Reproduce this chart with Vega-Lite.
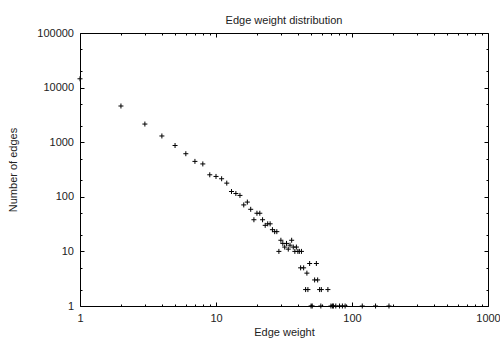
{
  "$schema": "https://vega.github.io/schema/vega-lite/v6.json",
  "width": 408,
  "height": 273,
  "autosize": {"type": "none"},
  "padding": {"left": 80, "top": 33, "right": 12, "bottom": 33},
  "background": "white",
  "title": {"text": "Edge weight distribution", "font": "Liberation Sans", "fontSize": 11, "fontWeight": "normal", "color": "#222", "baseline": "alphabetic", "offset": 12, "dy": 20, "anchor": "middle"},
  "config": {
    "view": {"stroke": null},
    "axis": {"grid": false, "minExtent": 0, "domainColor": "#000", "tickColor": "#000", "domainWidth": 1, "tickWidth": 1, "labelFont": "Liberation Sans", "labelFontSize": 11, "labelColor": "#222", "titleFont": "Liberation Sans", "titleFontSize": 11, "titleFontWeight": "normal", "titleColor": "#222", "labelFlush": false, "labelOverlap": false}
  },
  "data": {"values": [
    {"w": 1, "n": 14500}, {"w": 2, "n": 4600}, {"w": 3, "n": 2150}, {"w": 4, "n": 1300}, {"w": 5, "n": 870},
    {"w": 6, "n": 615}, {"w": 7, "n": 445}, {"w": 8, "n": 400}, {"w": 9, "n": 253}, {"w": 10, "n": 236},
    {"w": 11, "n": 214}, {"w": 12, "n": 178}, {"w": 13, "n": 125}, {"w": 14, "n": 115}, {"w": 15, "n": 106},
    {"w": 16, "n": 71}, {"w": 17, "n": 80}, {"w": 18, "n": 59}, {"w": 19, "n": 38}, {"w": 20, "n": 50},
    {"w": 21, "n": 50}, {"w": 22, "n": 38}, {"w": 23, "n": 30}, {"w": 24, "n": 32}, {"w": 25, "n": 32},
    {"w": 26, "n": 25}, {"w": 27, "n": 23}, {"w": 28, "n": 23}, {"w": 29, "n": 10}, {"w": 30, "n": 16},
    {"w": 31, "n": 14}, {"w": 32, "n": 12}, {"w": 33, "n": 14}, {"w": 34, "n": 11}, {"w": 35, "n": 13},
    {"w": 36, "n": 16}, {"w": 37, "n": 12}, {"w": 38, "n": 10}, {"w": 39, "n": 12}, {"w": 40, "n": 10},
    {"w": 41, "n": 10}, {"w": 42.5, "n": 10}, {"w": 41.9, "n": 5}, {"w": 44.1, "n": 5}, {"w": 46.6, "n": 4},
    {"w": 48.8, "n": 6}, {"w": 54.7, "n": 6}, {"w": 45.6, "n": 2}, {"w": 47.4, "n": 2}, {"w": 53.1, "n": 3},
    {"w": 55.9, "n": 3}, {"w": 57.8, "n": 2}, {"w": 59.5, "n": 2}, {"w": 66.5, "n": 2},
    {"w": 50, "n": 1}, {"w": 51, "n": 1}, {"w": 59, "n": 1}, {"w": 70, "n": 1}, {"w": 72, "n": 1},
    {"w": 73, "n": 1}, {"w": 76, "n": 1}, {"w": 81, "n": 1}, {"w": 85, "n": 1}, {"w": 89, "n": 1},
    {"w": 119, "n": 1}, {"w": 149, "n": 1}, {"w": 187, "n": 1}
  ]},
  "layer": [
    {
      "mark": {"type": "point", "shape": "M-1,0H1M0,-1V1", "size": 25, "filled": false, "stroke": "#000", "strokeWidth": 1, "opacity": 1},
      "encoding": {
        "x": {"field": "w", "type": "quantitative", "scale": {"type": "log", "domain": [1, 1000], "nice": false},
          "axis": {"orient": "bottom", "values": [1, 10, 100, 1000], "format": "d", "tickSize": -4, "labelPadding": 10.5, "labelBaseline": "top", "title": "Edge weight", "titleX": 204, "titleY": 29.5, "titleBaseline": "alphabetic", "titleAlign": "center"}},
        "y": {"field": "n", "type": "quantitative", "scale": {"type": "log", "domain": [1, 100000], "nice": false},
          "axis": {"orient": "left", "values": [1, 10, 100, 1000, 10000, 100000], "format": "d", "tickSize": -4, "labelPadding": 10.5, "title": "Number of edges", "titleX": -64, "titleY": 136.5, "titleAngle": 270, "titleBaseline": "alphabetic", "titleAlign": "center"}}
      }
    },
    {
      "mark": {"type": "point", "opacity": 0},
      "encoding": {
        "x": {"field": "w", "type": "quantitative", "scale": {"type": "log", "domain": [1, 1000], "nice": false},
          "axis": {"orient": "bottom", "values": [2, 3, 4, 5, 6, 7, 8, 9, 20, 30, 40, 50, 60, 70, 80, 90, 200, 300, 400, 500, 600, 700, 800, 900], "tickSize": -2, "labels": false, "domain": false, "title": null}},
        "y": {"field": "n", "type": "quantitative", "scale": {"type": "log", "domain": [1, 100000], "nice": false},
          "axis": {"orient": "left", "values": [2, 5, 20, 50, 200, 500, 2000, 5000, 20000, 50000], "tickSize": -2, "labels": false, "domain": false, "title": null}}
      }
    },
    {
      "mark": {"type": "point", "opacity": 0},
      "encoding": {
        "x": {"field": "w", "type": "quantitative", "scale": {"type": "log", "domain": [1, 1000], "nice": false},
          "axis": {"orient": "top", "values": [1, 10, 100, 1000], "tickSize": -4, "labels": false, "title": null}},
        "y": {"field": "n", "type": "quantitative", "scale": {"type": "log", "domain": [1, 100000], "nice": false},
          "axis": {"orient": "right", "values": [1, 10, 100, 1000, 10000, 100000], "tickSize": -4, "labels": false, "title": null}}
      }
    },
    {
      "mark": {"type": "point", "opacity": 0},
      "encoding": {
        "x": {"field": "w", "type": "quantitative", "scale": {"type": "log", "domain": [1, 1000], "nice": false},
          "axis": {"orient": "top", "values": [2, 3, 4, 5, 6, 7, 8, 9, 20, 30, 40, 50, 60, 70, 80, 90, 200, 300, 400, 500, 600, 700, 800, 900], "tickSize": -2, "labels": false, "domain": false, "title": null}},
        "y": {"field": "n", "type": "quantitative", "scale": {"type": "log", "domain": [1, 100000], "nice": false},
          "axis": {"orient": "right", "values": [2, 5, 20, 50, 200, 500, 2000, 5000, 20000, 50000], "tickSize": -2, "labels": false, "domain": false, "title": null}}
      }
    }
  ],
  "resolve": {"axis": {"x": "independent", "y": "independent"}}
}
